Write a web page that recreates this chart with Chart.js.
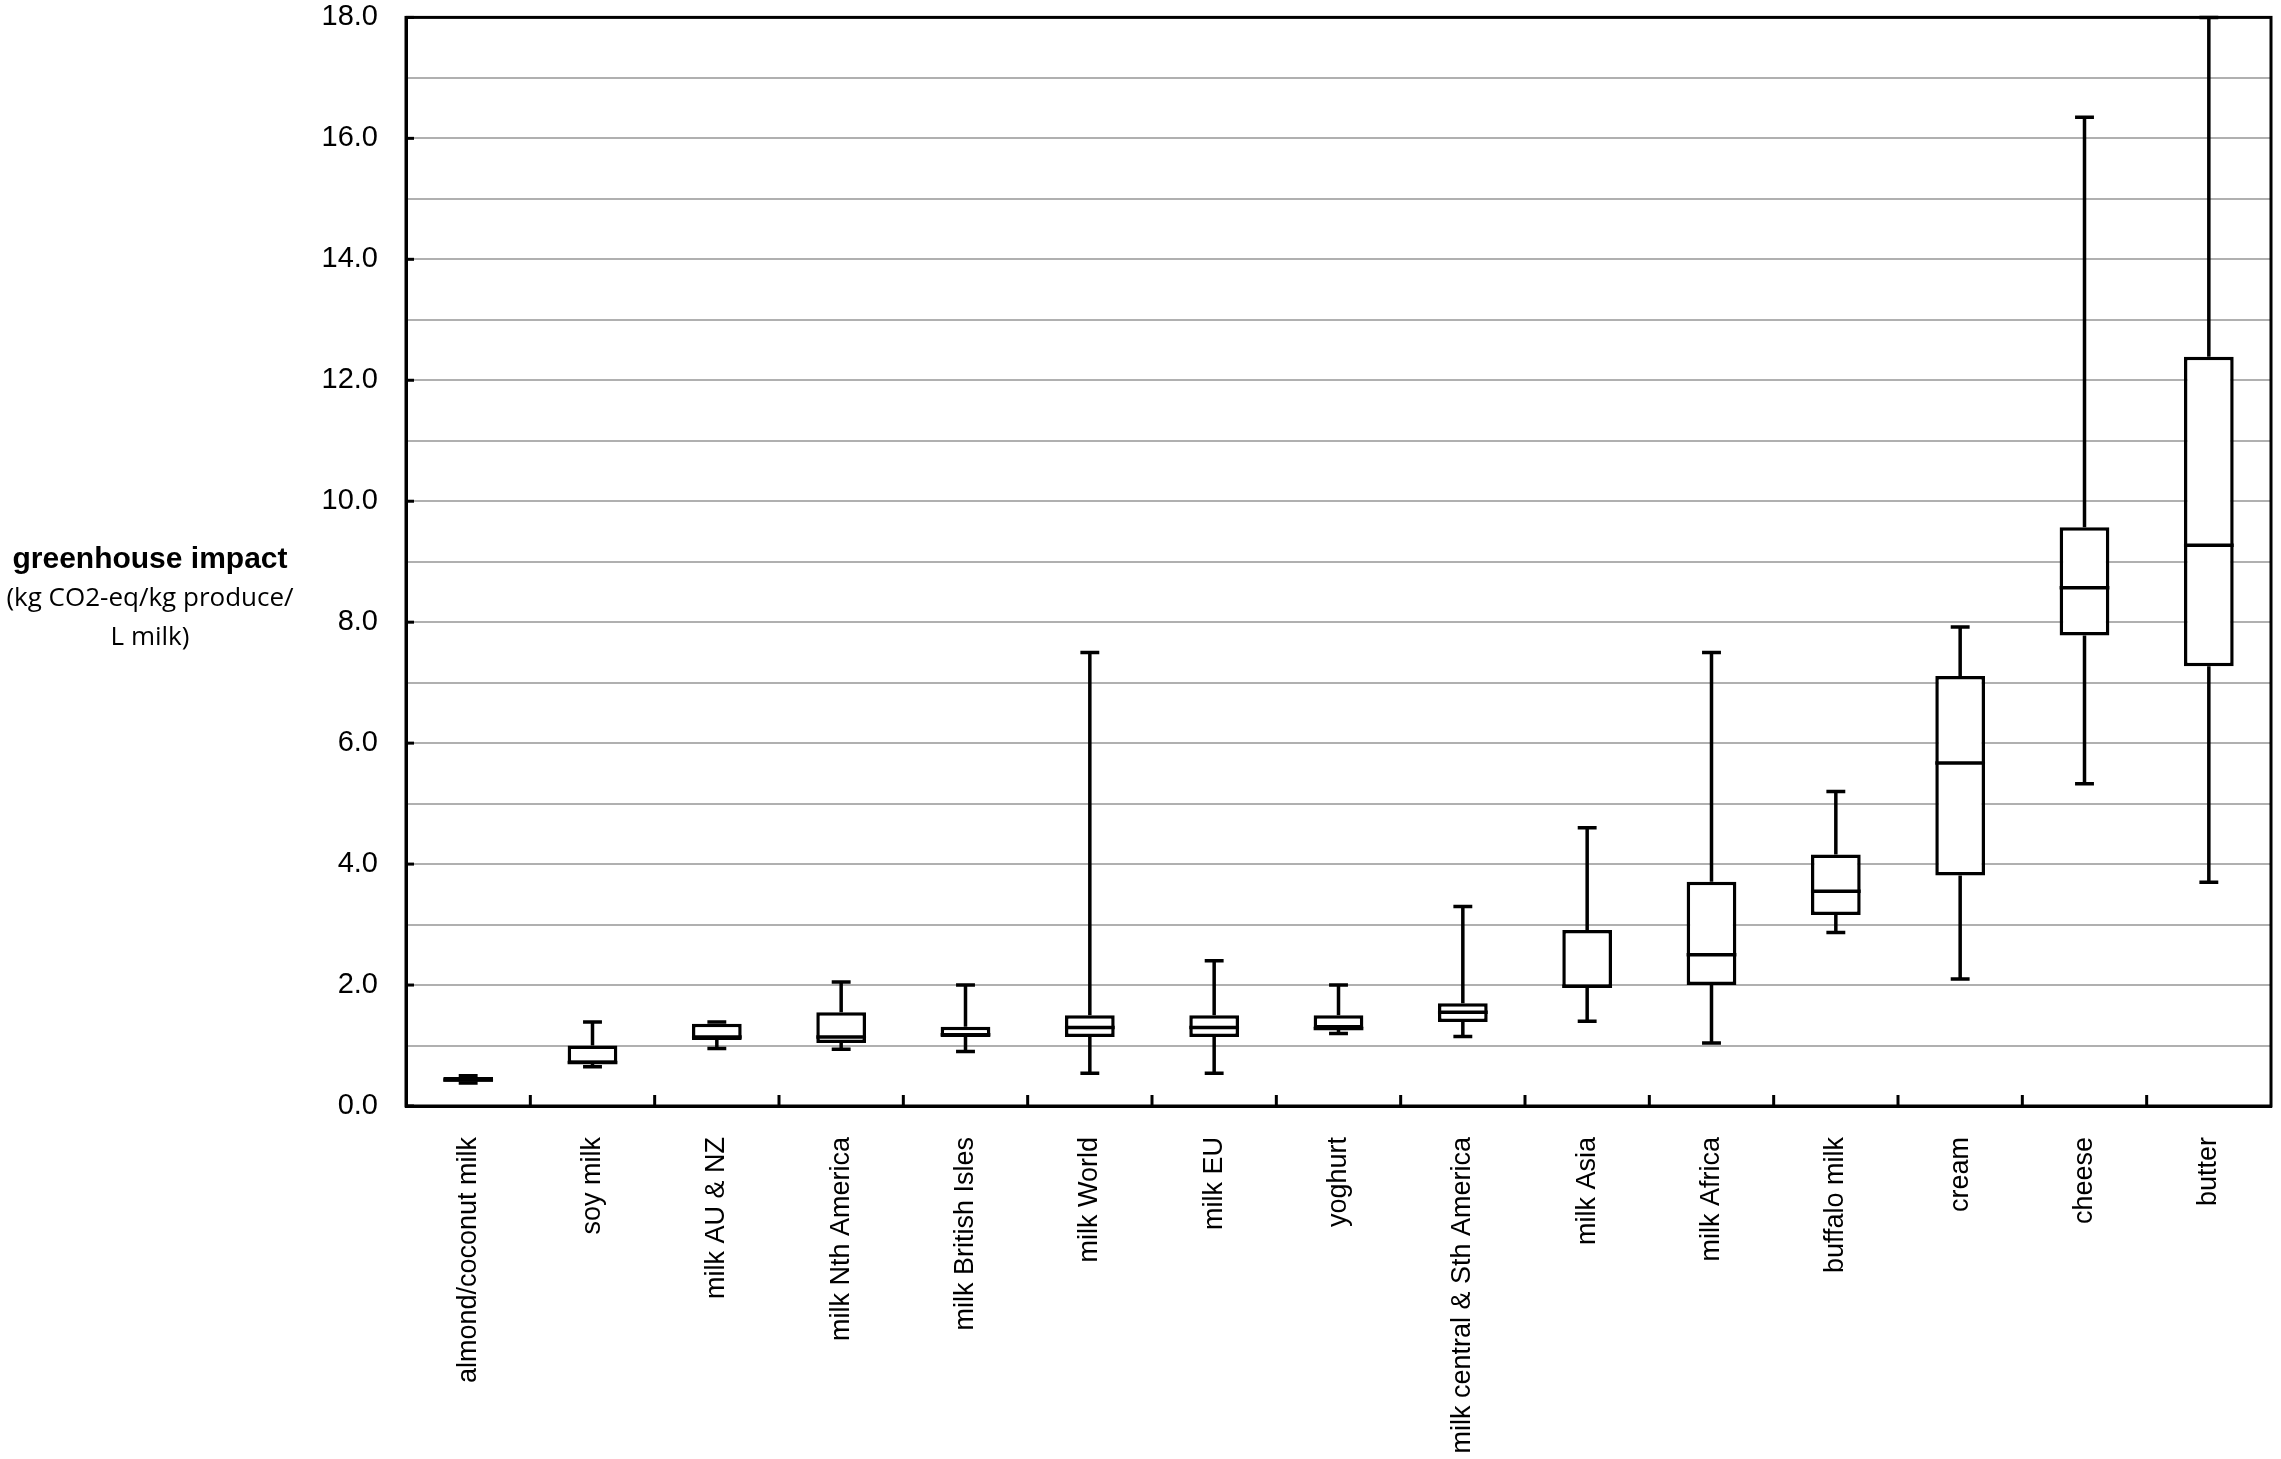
<!DOCTYPE html>
<html>
<head>
<meta charset="utf-8">
<title>greenhouse impact</title>
<script src="https://cdn.jsdelivr.net/npm/chart.js@4.4.1/dist/chart.umd.min.js"></script>
<style>
  html, body { margin: 0; padding: 0; background: #fff; }
  #wrap { position: relative; width: 2281px; height: 1459px; }
  #yTitle { position: absolute; left: 0; top: 538px; width: 300px; text-align: center; color: #000; }
  #yTitle .t1 { font: bold 30px 'Liberation Sans', Arial, sans-serif; line-height: 39px; }
  #yTitle .t2 { font: 26px 'Open Sans', 'Noto Sans', sans-serif; line-height: 39px; }
</style>
</head>
<body>
<div id="wrap">
  <canvas id="chartBox"></canvas>
  <div id="yTitle">
    <div class="t1">greenhouse impact</div>
    <div class="t2">(kg CO2-eq/kg produce/</div>
    <div class="t2">L milk)</div>
  </div>
</div>
<script>
'use strict';

// du lieu doc tu hinh
var categories = ['almond/coconut milk', 'soy milk', 'milk AU & NZ', 'milk Nth America', 'milk British Isles',
  'milk World', 'milk EU', 'yoghurt', 'milk central & Sth America', 'milk Asia', 'milk Africa',
  'buffalo milk', 'cream', 'cheese', 'butter'];
var whiskerLow = [0.38, 0.65, 0.95, 0.94, 0.90, 0.54, 0.54, 1.20, 1.15, 1.40, 1.04, 2.87, 2.10, 5.33, 3.70];
var q1 = [0.40, 0.70, 1.09, 1.04, 1.14, 1.14, 1.14, 1.28, 1.39, 1.95, 2.00, 3.16, 3.81, 7.78, 7.27];
var median = [0.43, 0.72, 1.14, 1.14, 1.18, 1.30, 1.30, 1.28, 1.55, 1.98, 2.50, 3.55, 5.67, 8.57, 9.27];
var q3 = [0.48, 1.00, 1.36, 1.55, 1.31, 1.50, 1.50, 1.50, 1.70, 2.91, 3.71, 4.16, 7.11, 9.57, 12.39];
var whiskerHigh = [0.50, 1.39, 1.39, 2.05, 2.00, 7.50, 2.40, 2.00, 3.30, 4.60, 7.50, 5.20, 7.92, 16.35, 18.0];

var yMin = 0;
var yMax = 18;
var LINE_W = 3.5;

Chart.defaults.font.family = "'Liberation Sans', Arial, sans-serif";
Chart.defaults.color = '#000';

// ====================================
// VE RAU VA TRUNG VI
// ====================================
var boxPlugin = {
  id: 'boxWhiskers',
  beforeDatasetsDraw: function (chart) {
    var ctx = chart.ctx;
    var y = chart.scales.y;
    var meta = chart.getDatasetMeta(0);
    ctx.save();
    ctx.strokeStyle = '#000';
    ctx.lineWidth = LINE_W;
    meta.data.forEach(function (bar, i) {
      var capW = bar.width * 0.38;
      var pairs = [[q3[i], whiskerHigh[i]], [q1[i], whiskerLow[i]]];
      pairs.forEach(function (p) {
        var a = y.getPixelForValue(p[0]);
        var b = y.getPixelForValue(p[1]);
        ctx.beginPath();
        ctx.moveTo(bar.x, a);
        ctx.lineTo(bar.x, b);
        ctx.moveTo(bar.x - capW / 2, b);
        ctx.lineTo(bar.x + capW / 2, b);
        ctx.stroke();
      });
    });
    ctx.restore();
  },
  afterDatasetsDraw: function (chart) {
    var ctx = chart.ctx;
    var y = chart.scales.y;
    var x = chart.scales.x;
    var area = chart.chartArea;
    var meta = chart.getDatasetMeta(0);
    ctx.save();
    ctx.strokeStyle = '#000';
    ctx.lineWidth = LINE_W;

    // trung vi
    meta.data.forEach(function (bar, i) {
      var m = y.getPixelForValue(median[i]);
      ctx.beginPath();
      ctx.moveTo(bar.x - bar.width / 2, m);
      ctx.lineTo(bar.x + bar.width / 2, m);
      ctx.stroke();
    });

    // khung
    ctx.lineWidth = 3;
    ctx.strokeRect(area.left, area.top, area.right - area.left, area.bottom - area.top);

    // vach chia truc y (ben trong)
    for (var v = yMin; v <= yMax; v += 2) {
      var py = y.getPixelForValue(v);
      ctx.beginPath();
      ctx.moveTo(area.left, py);
      ctx.lineTo(area.left + 8, py);
      ctx.stroke();
    }

    // vach chia truc x giua cac nhom
    for (var k = 1; k < categories.length; k++) {
      var px = (x.getPixelForValue(k - 1) + x.getPixelForValue(k)) / 2;
      ctx.beginPath();
      ctx.moveTo(px, area.bottom);
      ctx.lineTo(px, area.bottom - 11);
      ctx.stroke();
    }
    ctx.restore();
  }
};

var boxData = categories.map(function (c, i) { return [q1[i], q3[i]]; });

new Chart(document.getElementById('chartBox').getContext('2d'), {
  type: 'bar',
  data: {
    labels: categories,
    datasets: [{
      data: boxData,
      backgroundColor: '#ffffff',
      borderColor: '#000000',
      borderWidth: LINE_W,
      borderSkipped: false,
      barPercentage: 0.4,
      categoryPercentage: 1
    }]
  },
  options: {
    responsive: true,
    maintainAspectRatio: false,
    animation: false,
    layout: { padding: { top: 17, right: 10, left: 0, bottom: 0 } },
    plugins: { legend: { display: false }, tooltip: { enabled: false } },
    scales: {
      x: {
        grid: { display: false, drawTicks: false },
        border: { color: '#000', width: 3 },
        ticks: {
          autoSkip: false,
          minRotation: 90,
          maxRotation: 90,
          padding: 31,
          font: { size: 27 }
        },
        afterFit: function (scale) { scale.height = 353; }
      },
      y: {
        min: yMin,
        max: yMax,
        // vach tick trong suot de day nhan sang trai ma khong day vung ve xuong
        grid: { color: '#b0b0b0', lineWidth: 2, drawTicks: true, tickLength: 28, tickColor: 'rgba(0,0,0,0)' },
        border: { color: '#000', width: 3 },
        ticks: {
          stepSize: 1,
          padding: 0,
          font: { size: 29 },
          callback: function (value) {
            return value % 2 === 0 ? value.toFixed(1) : '';
          }
        },
        afterFit: function (scale) { scale.width = 406; }
      }
    }
  },
  plugins: [boxPlugin]
});
</script>
</body>
</html>
